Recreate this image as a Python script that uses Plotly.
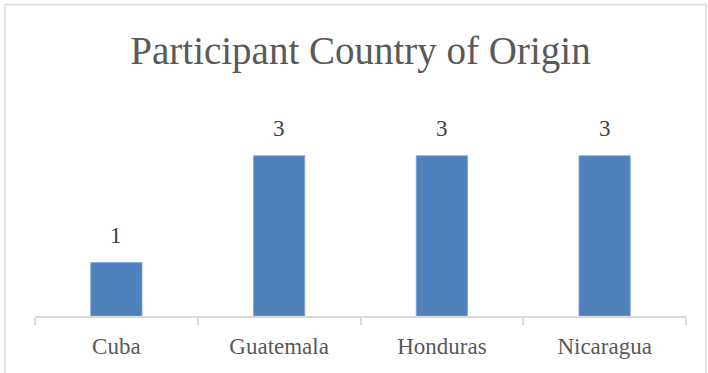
import plotly.graph_objects as go

countries = ["Cuba", "Guatemala", "Honduras", "Nicaragua"]
participants = [1, 3, 3, 3]

FONT = "Liberation Serif"
BAR_COLOR = "#4F81BD"
GRID_GRAY = "#D9D9D9"

fig = go.Figure()
fig.add_trace(go.Bar(
    x=countries,
    y=participants,
    width=0.315,
    marker=dict(color=BAR_COLOR, line=dict(color="#7EA3D3", width=0.8)),
    hoverinfo="x+y",
))

# value labels above each bar
for c, v in zip(countries, participants):
    fig.add_annotation(
        x=c, y=v, text=str(v), showarrow=False,
        yanchor="bottom", yshift=13,
        font=dict(family=FONT, size=23, color="#404040"),
    )

W, H = 708, 373
ml, mr, mt, mb = 35, 22, 129, 57

# outer chart frame
fig.add_shape(
    type="rect", xref="paper", yref="paper",
    x0=(5 - ml) / (W - ml - mr), x1=(706 - ml) / (W - ml - mr),
    y0=-(H + 5 - (H - mb)) / (H - mt - mb), y1=(H - mb - 4.5) / (H - mt - mb),
    line=dict(color=GRID_GRAY, width=1.5), fillcolor="rgba(0,0,0,0)",
    layer="below",
)

fig.update_layout(
    width=W, height=H,
    margin=dict(l=ml, r=mr, t=mt, b=mb),
    paper_bgcolor="white", plot_bgcolor="white",
    showlegend=False,
    title=dict(
        text="Participant Country of Origin",
        x=0.5, xref="paper", xanchor="center",
        y=1 - 50 / H, yref="container", yanchor="middle",
        font=dict(family=FONT, size=39, color="#595959"),
    ),
    xaxis=dict(
        showline=True, linecolor=GRID_GRAY, linewidth=2,
        ticks="outside", tickson="boundaries", ticklen=7,
        tickcolor=GRID_GRAY, tickwidth=2,
        tickfont=dict(family=FONT, size=23, color="#595959"),
        ticklabelstandoff=8,
        showgrid=False, zeroline=False,
    ),
    yaxis=dict(
        range=[0, 3.5], visible=False, showgrid=False, zeroline=False,
    ),
)

fig.write_html("out.html")
